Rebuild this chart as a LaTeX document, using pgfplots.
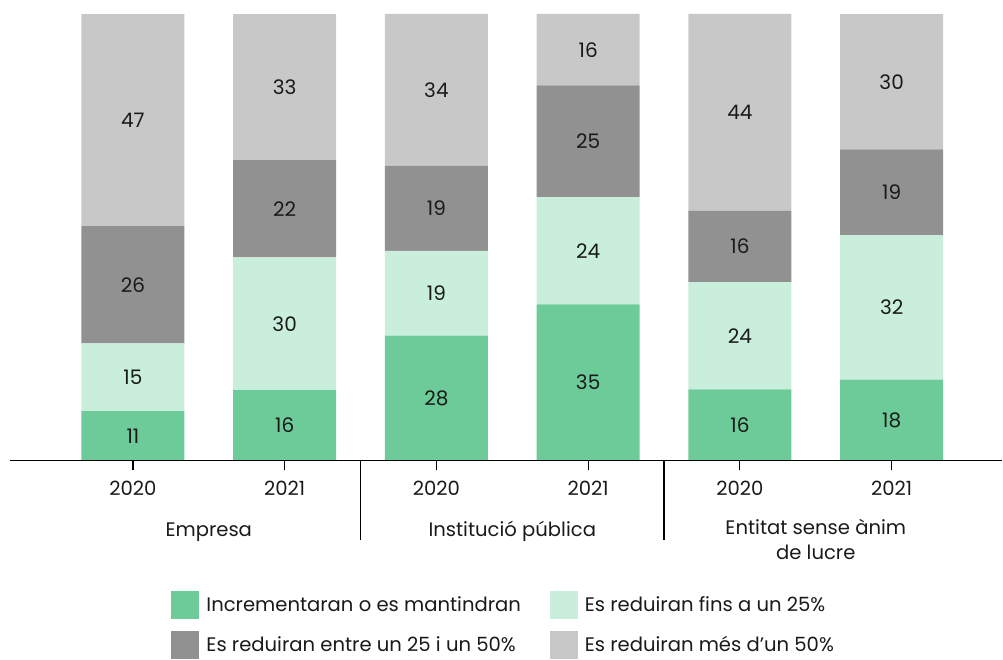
\documentclass[border=0pt]{standalone}
\usepackage{fontspec}
\setmainfont{Poppins}
\usepackage{pgfplots}
\usepackage{pgfplotstable}
\pgfplotsset{compat=1.18}

\definecolor{cgreen}{HTML}{6CCB98}
\definecolor{clgreen}{HTML}{C9EEDB}
\definecolor{cdgray}{HTML}{919191}
\definecolor{clgray}{HTML}{C8C8C8}
\definecolor{ctext}{HTML}{1A1A1A}

% values normalised to 100 per bar; labels are the published percentages
\pgfplotstableread{
x  a      b      c      d      la lb lc ld
0  11.11  15.15  26.26  47.47  11 15 26 47
1  15.84  29.70  21.78  32.67  16 30 22 33
2  28.00  19.00  19.00  34.00  28 19 19 34
3  35.00  24.00  25.00  16.00  35 24 25 16
4  16.00  24.00  16.00  44.00  16 24 16 44
5  18.18  32.32  19.19  30.30  18 32 19 30
}\data

\begin{document}
\begin{tikzpicture}[font=\fontsize{9.8}{12.5}\selectfont, text=ctext]
\begin{axis}[
  scale only axis,
  x=75.9pt, y=2.235pt,
  xmin=-0.81, xmax=5.73,
  ymin=0, ymax=103.13,
  ybar stacked,
  bar width=51.5pt,
  axis on top,
  axis y line=none,
  axis x line=bottom,
  axis line style={-, black, line width=0.6pt},
  xtick={0,...,5},
  xticklabels={2020,2021,2020,2021,2020,2021},
  tick align=outside,
  tick style={black, line width=0.6pt},
  major tick length=4.8pt,
  xticklabel style={yshift=-2pt},
  clip=false,
  legend columns=2,
  legend cell align=left,
  legend style={draw=none, inner sep=0pt, at={(0.5,-0.282)}, anchor=north,
    /tikz/every even column/.append style={column sep=11pt},
    row sep=6pt,
    nodes={inner sep=0pt, inner xsep=3.5pt, text=ctext}},
  legend image code/.code={\fill[#1] (0pt,-7pt) rectangle (14pt,7pt);},
  nodes near coords,
  point meta=explicit symbolic,
  every node near coord/.append style={anchor=center, text=ctext, font=\fontsize{10}{12.5}\selectfont},
]
\addplot[fill=cgreen, draw=none] table[x=x, y=a, meta=la] {\data};
\addlegendentry{Incrementaran o es mantindran}
\addplot[fill=clgreen, draw=none] table[x=x, y=b, meta=lb] {\data};
\addlegendentry{Es reduiran fins a un 25\%}
\addplot[fill=cdgray, draw=none] table[x=x, y=c, meta=lc] {\data};
\addlegendentry{Es reduiran entre un 25 i un 50\%}
\addplot[fill=clgray, draw=none] table[x=x, y=d, meta=ld] {\data};
\addlegendentry{Es reduiran més d’un 50\%}

\path (rel axis cs:0,1) -- ([xshift=-5pt]rel axis cs:0,0);
\draw[black, line width=0.6pt] (axis cs:1.5,0) -- ++(0pt,-39.5pt);
\draw[black, line width=0.6pt] (axis cs:3.5,0) -- ++(0pt,-39.5pt);
\node[anchor=center] at ([yshift=-35.5pt]axis cs:0.5,0) {Empresa};
\node[anchor=center] at ([yshift=-35.5pt]axis cs:2.5,0) {Institució pública};
\node[anchor=north, align=center, inner sep=0pt] at ([yshift=-29pt]axis cs:4.5,0) {Entitat sense ànim\\de lucre};
\end{axis}
\end{tikzpicture}
\end{document}
